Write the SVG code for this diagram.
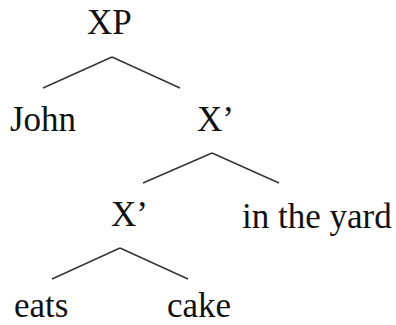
<svg xmlns="http://www.w3.org/2000/svg" width="396" height="325" viewBox="0 0 396 325">
<style>
text{font-family:'Liberation Serif','Times New Roman',serif;font-size:35px;fill:#111}
.c line{stroke:#333;stroke-width:1.4;fill:none}
</style>
<rect width="396" height="325" fill="#fff"/>
<g class="c" id="connectors">
<line x1="43" y1="88" x2="112" y2="57"/>
<line x1="112" y1="57" x2="180" y2="88"/>
<line x1="143" y1="183" x2="212" y2="153"/>
<line x1="212" y1="153" x2="279" y2="183"/>
<line x1="52" y1="279" x2="120" y2="248"/>
<line x1="120" y1="248" x2="188" y2="279"/>
</g>
<g id="XP"><text x="87" y="34">XP</text></g>
<g id="John"><text x="10" y="131">John</text></g>
<g id="Xbar1"><text x="197" y="131">X’</text></g>
<g id="Xbar2"><text x="111" y="226">X’</text></g>
<g id="yard"><text x="242" y="228">in the yard</text></g>
<g id="eats"><text x="14" y="317">eats</text></g>
<g id="cake"><text x="167" y="317">cake</text></g>
</svg>
